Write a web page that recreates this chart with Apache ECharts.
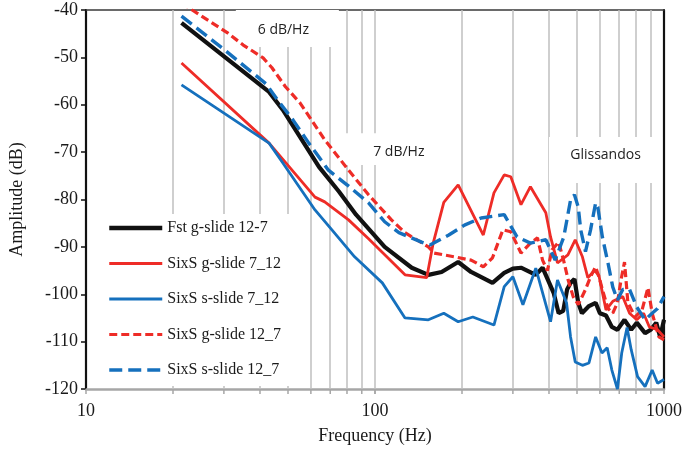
<!DOCTYPE html>
<html><head><meta charset="utf-8">
<script src="https://cdn.jsdelivr.net/npm/echarts@6/dist/echarts.min.js"></script>
<style>html,body{margin:0;padding:0;background:#fff}#c{width:685px;height:456px}</style>
</head><body><div id="c"></div>
<script>
// ---- data ----
const seriesNames = ['Fst g-slide 12-7', 'SixS g-slide 7_12', 'SixS s-slide 7_12', 'SixS g-slide 12_7', 'SixS s-slide 12_7'];

const fstFreq = [21.4, 43, 48, 64, 75, 86, 108, 134, 153, 170, 194, 215, 255, 280, 300, 320, 360, 380, 415, 432, 448, 462, 475, 490, 505, 520, 550, 580, 600, 630, 660, 690, 730, 770, 805, 860, 900, 940, 970, 1000];
const fstDb   = [-42.7, -57.3, -61.1, -73.1, -78.3, -83.2, -90, -94.4, -95.9, -95.3, -93.2, -95.3, -97.6, -95.5, -94.6, -94.4, -95.9, -94.4, -99.7, -104, -103.5, -99, -97.6, -96.8, -101.8, -104, -102.5, -101.8, -104, -104.5, -106.9, -107.5, -105.4, -107.5, -106, -108.2, -107.5, -106, -109, -105.4];

const gs712Freq = [21.4, 43, 62, 67, 81, 95, 127, 151, 159, 173, 194, 237, 258, 280, 295, 320, 345, 390, 405, 428, 465, 493, 522, 545, 575, 595, 630, 665, 720, 760, 805, 850, 890, 950, 1000];
const gs712Db   = [-51.2, -68.1, -79.5, -80.5, -84.3, -88.3, -95.9, -96.5, -89.2, -80.6, -76.9, -87.5, -78.6, -74.8, -75.2, -81.1, -77.3, -82.8, -87.9, -93.4, -91.7, -88.5, -92.1, -96.5, -95, -96, -103.3, -101.5, -100.5, -104, -105.4, -104, -106.9, -107.5, -109];

const ss712Freq = [21.4, 43, 48, 62, 70, 85, 106, 127, 153, 173, 194, 218, 258, 280, 300, 325, 360, 405, 428, 460, 475, 493, 522, 550, 580, 610, 636, 660, 690, 714, 745, 770, 810, 860, 910, 950, 1000];
const ss712Db   = [-55.8, -68.1, -72.3, -82.2, -86, -92.1, -97.6, -105, -105.4, -104, -105.8, -104.8, -106.5, -98.4, -96.3, -102.2, -94.5, -105.8, -97, -101.8, -109, -114.3, -115, -114.5, -109, -112.4, -111.3, -116, -120, -112.4, -107, -111.7, -117.4, -119.5, -116, -118.8, -118];

const gs127Freq = [21.4, 23.3, 31, 35, 41, 44, 49, 55, 67, 81, 95, 114, 127, 153, 160, 188, 215, 237, 255, 277, 295, 320, 345, 365, 380, 395, 410, 432, 450, 466, 485, 505, 535, 557, 580, 600, 612, 640, 665, 690, 710, 730, 750, 795, 840, 880, 910, 960, 1000];
const gs127Db   = [-38.5, -40, -44.9, -47.4, -50.1, -52.2, -56.2, -59.6, -67.4, -73.8, -79, -84.3, -87, -90, -91.3, -92.1, -92.8, -94.2, -92.3, -86.4, -86.8, -91.3, -89.2, -88.1, -92.8, -95, -90.6, -89, -93, -97, -100.5, -102.2, -99, -96.3, -94.2, -97, -99, -103, -104, -101.8, -97, -93.2, -101.8, -104.8, -103.3, -98.6, -104, -109, -109.6];

const ss127Freq = [21.4, 30, 42, 46, 52, 59, 69, 80, 95, 108, 121, 145, 155, 180, 204, 233, 280, 310, 345, 390, 420, 450, 475, 490, 505, 515, 535, 557, 580, 590, 612, 640, 665, 690, 720, 760, 805, 860, 910, 950, 1000];
const ss127Db   = [-41.3, -48.3, -55.6, -59, -63.2, -68.1, -73.8, -76.9, -80.7, -84.7, -87, -89, -89.6, -87.5, -85.4, -83.9, -83.2, -87.9, -89.2, -88.5, -92.8, -87.9, -80.1, -79, -81.6, -86.4, -91, -86.4, -80.7, -81.6, -87.9, -93.4, -98.5, -101.2, -99, -99, -102.7, -105.4, -104, -103, -100.5];

const gridFreqs = [20, 30, 40, 50, 60, 70, 80, 90, 100, 200, 300, 400, 500, 600, 700, 800, 900];
const noteTexts = ['6 dB/Hz', '7 dB/Hz', 'Glissandos'];

// ---- chart ----
const zip = (f, v) => f.map((x, i) => [x, v[i]]);
const serif = 'Liberation Serif';
const styles = [
  {color: '#111111', width: 4.2, type: 'solid'},
  {color: '#EE2C27', width: 2.8, type: 'solid'},
  {color: '#1570BD', width: 2.8, type: 'solid'},
  {color: '#EE2C27', width: 3.2, type: [8, 4]},
  {color: '#1570BD', width: 3.4, type: [13, 6]}
];
const legendWidths = [4.5, 3, 3, 3.2, 3.4];
const datasets = [zip(fstFreq, fstDb), zip(gs712Freq, gs712Db), zip(ss712Freq, ss712Db), zip(gs127Freq, gs127Db), zip(ss127Freq, ss127Db)];

const noteBoxes = [
  {x: [33, 75], y: [-40, -47.8], off: [-4, 2]},
  {x: [75, 195], y: [-66, -72.7], off: [0, 3]},
  {x: [400, 985], y: [-66.8, -76.5], off: [0, -5]}
];

const chart = echarts.init(document.getElementById('c'), null, {renderer: 'canvas'});
const dataSeries = seriesNames.map((n, i) => ({
  name: n, type: 'line', data: datasets[i], symbol: 'none', showSymbol: false,
  lineStyle: styles[i], itemStyle: {color: styles[i].color}, z: 3 + i, clip: true,
  xAxisIndex: 0, yAxisIndex: 0
}));

const option = {
  animation: false,
  backgroundColor: '#ffffff',
  grid: {left: 82, right: 21, top: 10, bottom: 67, containLabel: false},
  xAxis: [{
    type: 'log', logBase: 10, min: 10, max: 1000, position: 'bottom',
    name: 'Frequency (Hz)', nameLocation: 'middle', nameGap: 38,
    nameTextStyle: {fontFamily: serif, fontSize: 18, color: '#1a1a1a'},
    axisLine: {show: true, lineStyle: {color: '#A6A6A6', width: 2.5}},
    axisTick: {show: true, length: 5, lineStyle: {color: '#A6A6A6', width: 1.5}},
    axisLabel: {fontFamily: serif, fontSize: 18, color: '#1a1a1a', margin: 13, formatter: v => String(Math.round(v))},
    splitLine: {show: false}, minorTick: {show: false}
  }, {
    type: 'log', logBase: 10, min: 10, max: 1000, position: 'top',
    axisLine: {show: true, lineStyle: {color: '#3a3a3a', width: 1.5}},
    axisTick: {show: false}, axisLabel: {show: false}, splitLine: {show: false}
  }],
  yAxis: [{
    type: 'value', min: -120, max: -40, interval: 10,
    name: 'Amplitude (dB)', nameLocation: 'middle', nameGap: 60, nameRotate: 90,
    nameTextStyle: {fontFamily: serif, fontSize: 18, color: '#1a1a1a'},
    axisLine: {show: true, lineStyle: {color: '#111', width: 2.2}},
    axisTick: {show: true, length: 5, lineStyle: {color: '#111', width: 1.5}},
    axisLabel: {fontFamily: serif, fontSize: 18, color: '#1a1a1a', margin: 8},
    splitLine: {show: false}
  }, {
    type: 'value', min: -120, max: -40, interval: 10, position: 'right',
    axisLine: {show: true, lineStyle: {color: '#111', width: 2.2}},
    axisTick: {show: false}, axisLabel: {show: false}, splitLine: {show: false}
  }],
  legend: {
    data: seriesNames.map((n, i) => ({name: n, lineStyle: {width: legendWidths[i]}})),
    orient: 'vertical', left: 100, top: 214,
    backgroundColor: '#ffffff', padding: [6, 18, 8, 7],
    itemWidth: 53, itemHeight: 14, itemGap: 19.5,
    itemStyle: {opacity: 0},
    textStyle: {fontFamily: serif, fontSize: 16, color: '#1a1a1a'}
  },
  series: [
    {
      name: 'gridlines', type: 'line', data: [], symbol: 'none', silent: true, z: 1,
      markLine: {
        z: 0.5, silent: true, symbol: ['none', 'none'], animation: false,
        label: {show: false},
        lineStyle: {color: '#BFBFBF', width: 1.5, type: 'solid'},
        emphasis: {disabled: true},
        data: gridFreqs.map(f => ({xAxis: f}))
      }
    },
    {
      name: 'notes', type: 'line', data: [], symbol: 'none', silent: true, z: 1,
      markArea: {
        z: 1, silent: true, animation: false,
        itemStyle: {color: '#ffffff', opacity: 1},
        emphasis: {disabled: true},
        label: {show: true, position: 'inside', fontFamily: 'Open Sans', fontSize: 14, color: '#222'},
        data: noteBoxes.map((b, i) => [
          {name: noteTexts[i], xAxis: b.x[0], yAxis: b.y[0], label: {offset: b.off}},
          {xAxis: b.x[1], yAxis: b.y[1]}
        ])
      }
    }
  ].concat(dataSeries)
};
chart.setOption(option);

// minor ticks on the frequency axis (positions via the axis scale)
const y0 = chart.convertToPixel({xAxisIndex: 0, yAxisIndex: 0}, [10, -120])[1];
chart.setOption({
  graphic: gridFreqs.map(f => {
    const x = chart.convertToPixel({xAxisIndex: 0, yAxisIndex: 0}, [f, -120])[0];
    return {type: 'line', shape: {x1: x, y1: y0, x2: x, y2: y0 + 5}, style: {stroke: '#A6A6A6', lineWidth: 1.5}, z: 0, silent: true};
  })
});
</script></body></html>
